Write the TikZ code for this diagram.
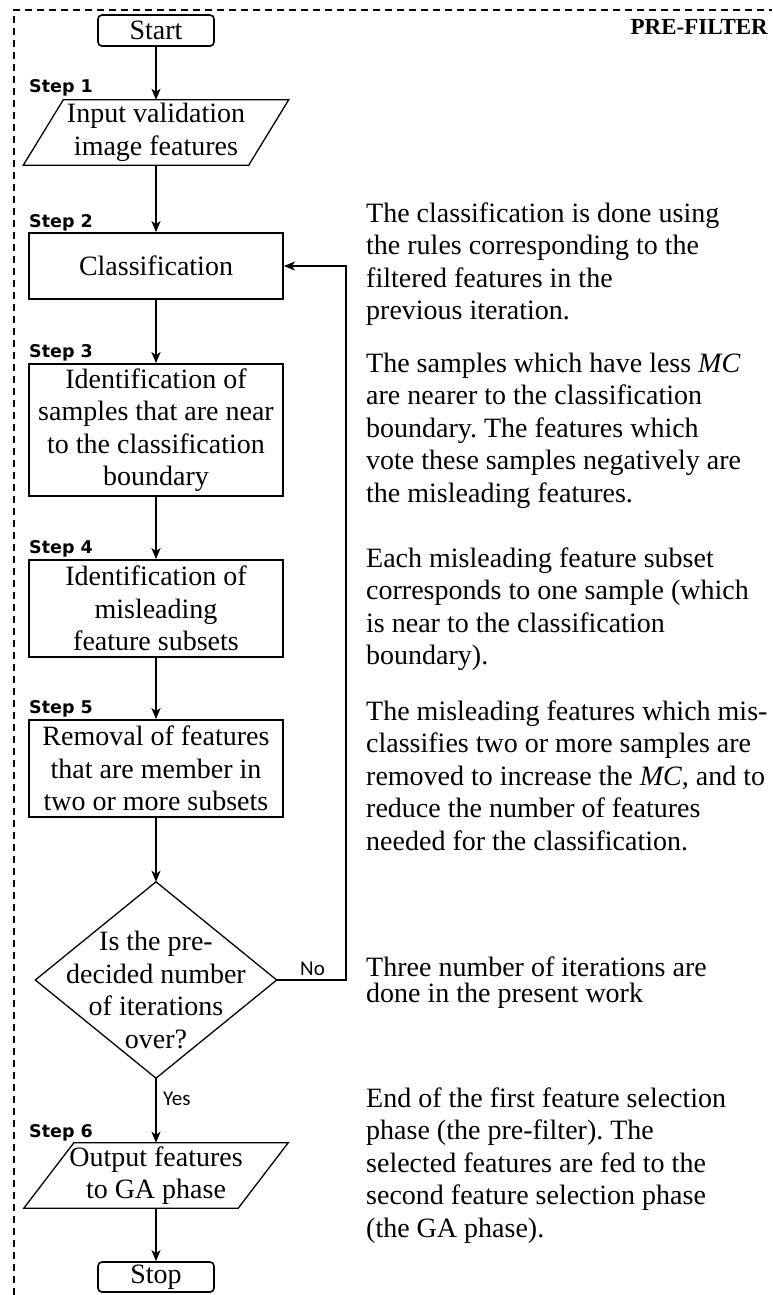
\documentclass[tikz,border=0pt]{standalone}
\usepackage{fontspec}
\setmainfont{Liberation Serif}
\newfontfamily\stepfont{DejaVu Sans}
\newfontfamily\lblfont{Carlito}
\usetikzlibrary{arrows.meta}
\frenchspacing

\begin{document}
\begin{tikzpicture}[x=1pt,y=-1pt,
  txt/.style={font=\fontsize{28}{32.5}\selectfont},
  box/.style={draw, line width=1.8pt, txt, align=center, inner sep=0pt, minimum width=254pt},
  term/.style={draw, line width=1.6pt, rounded corners=4pt, txt, inner sep=0pt,
               minimum width=116pt, minimum height=31pt},
  ghost/.style={txt, align=center, inner sep=0pt},
  thinline/.style={line width=1.3pt},
  tip/.style={-{Stealth[length=11pt,width=9pt,inset=3pt]}},
  flow/.style={line width=1.9pt, tip},
  steplabel/.style={font=\stepfont\bfseries\fontsize{17.5}{20}\selectfont, anchor=base west, inner sep=0pt},
  yesno/.style={font=\lblfont\fontsize{21}{24}\selectfont, anchor=base west, inner sep=0pt},
  note/.style={anchor=base west, inner sep=0pt, font=\fontsize{28}{32.5}\selectfont},
]
\useasboundingbox (0,0) rectangle (772,1295);

% frame of the pre-filter phase
\draw[line width=1.3pt, dash pattern=on 7pt off 5pt] (14,1295) -- (14,10) -- (772,10);
\node[anchor=base east, inner sep=0pt, font=\bfseries\fontsize{23}{26}\selectfont] (title) at (768,35) {PRE-FILTER};

% flow chart
\node[term] (start) at (156,30.5) {Start};

\node[steplabel] (l1) at (29,93) {Step 1};
\node[ghost, minimum width=225pt, minimum height=65pt] (p1) at (156,132.5) {Input validation\\image features};
\draw[thinline] ([xshift=20pt]p1.north west) -- ([xshift=20pt]p1.north east)
  -- ([xshift=-20pt]p1.south east) -- ([xshift=-20pt]p1.south west) -- cycle;

\node[steplabel] (l2) at (29,227) {Step 2};
\node[box, minimum height=66pt] (cls) at (156,266) {Classification};

\node[steplabel] (l3) at (29,357) {Step 3};
\node[box, minimum height=132pt] (s3) at (156,430) {Identification of\\samples that are near\\to the classification\\boundary};

\node[steplabel] (l4) at (29,553) {Step 4};
\node[box, minimum height=97pt] (s4) at (156,608.5) {Identification of\\misleading\\feature subsets};

\node[steplabel] (l5) at (29,713) {Step 5};
\node[box, minimum height=97pt] (s5) at (156,768.5) {Removal of features\\that are member in\\two or more subsets};

\node[inner sep=0pt, minimum width=241pt, minimum height=196pt] (dec) at (156,980) {};
\draw[thinline] (dec.north) -- (dec.east) -- (dec.south) -- (dec.west) -- cycle;
\node[ghost] (dectext) at (156,990) {Is the pre-\\decided number\\of iterations\\over?};

\node[steplabel] (l6) at (29,1137) {Step 6};
\node[ghost, minimum width=214pt, minimum height=65pt] (p2) at (156,1175.5) {Output features\\to GA phase};
\draw[thinline] ([xshift=25pt]p2.north west) -- ([xshift=25pt]p2.north east)
  -- ([xshift=-25pt]p2.south east) -- ([xshift=-25pt]p2.south west) -- cycle;

\node[term, minimum height=30pt] (stop) at (156,1277) {Stop};

% connectors
\draw[flow] (start.south) -- (p1.north);
\draw[flow] (p1.south) -- (cls.north);
\draw[flow] (cls.south) -- (s3.north);
\draw[flow] (s3.south) -- (s4.north);
\draw[flow] (s4.south) -- (s5.north);
\draw[flow] (s5.south) -- (dec.north);
\draw[flow] (dec.south) -- (p2.north);
\draw[flow] (p2.south) -- (stop.north);

\coordinate (fb) at (346,980);
\draw[thinline, tip] (dec.east) -- (fb) |- (cls.east);

\node[yesno] (no) at (300,975) {No};
\node[yesno] (yes) at (163,1105) {Yes};

% explanations
\node[note] (n1) at (366,222) {\begin{tabular}[t]{@{}l@{}}The classification is done using\\the rules corresponding to the\\filtered features in the\\previous iteration.\end{tabular}};
\node[note] (n2) at (366,372) {\begin{tabular}[t]{@{}l@{}}The samples which have less \textit{MC}\\are nearer to the classification\\boundary. The features which\\vote these samples negatively are\\the misleading features.\end{tabular}};
\node[note] (n3) at (366,567) {\begin{tabular}[t]{@{}l@{}}Each misleading feature subset\\corresponds to one sample (which\\is near to the classification\\boundary).\end{tabular}};
\node[note] (n4) at (366,720) {\begin{tabular}[t]{@{}l@{}}The misleading features which mis-\\classifies two or more samples are\\removed to increase the \textit{MC,} and to\\reduce the number of features\\needed for the classification.\end{tabular}};
\node[note] (n5) at (366,976) {\begin{tabular}[t]{@{}l@{}}Three number of iterations are\\[-6.5pt]done in the present work\end{tabular}};
\node[note] (n6) at (366,1107) {\begin{tabular}[t]{@{}l@{}}End of the first feature selection\\phase (the pre-filter). The\\selected features are fed to the\\second feature selection phase\\(the GA phase).\end{tabular}};
\end{tikzpicture}
\end{document}
